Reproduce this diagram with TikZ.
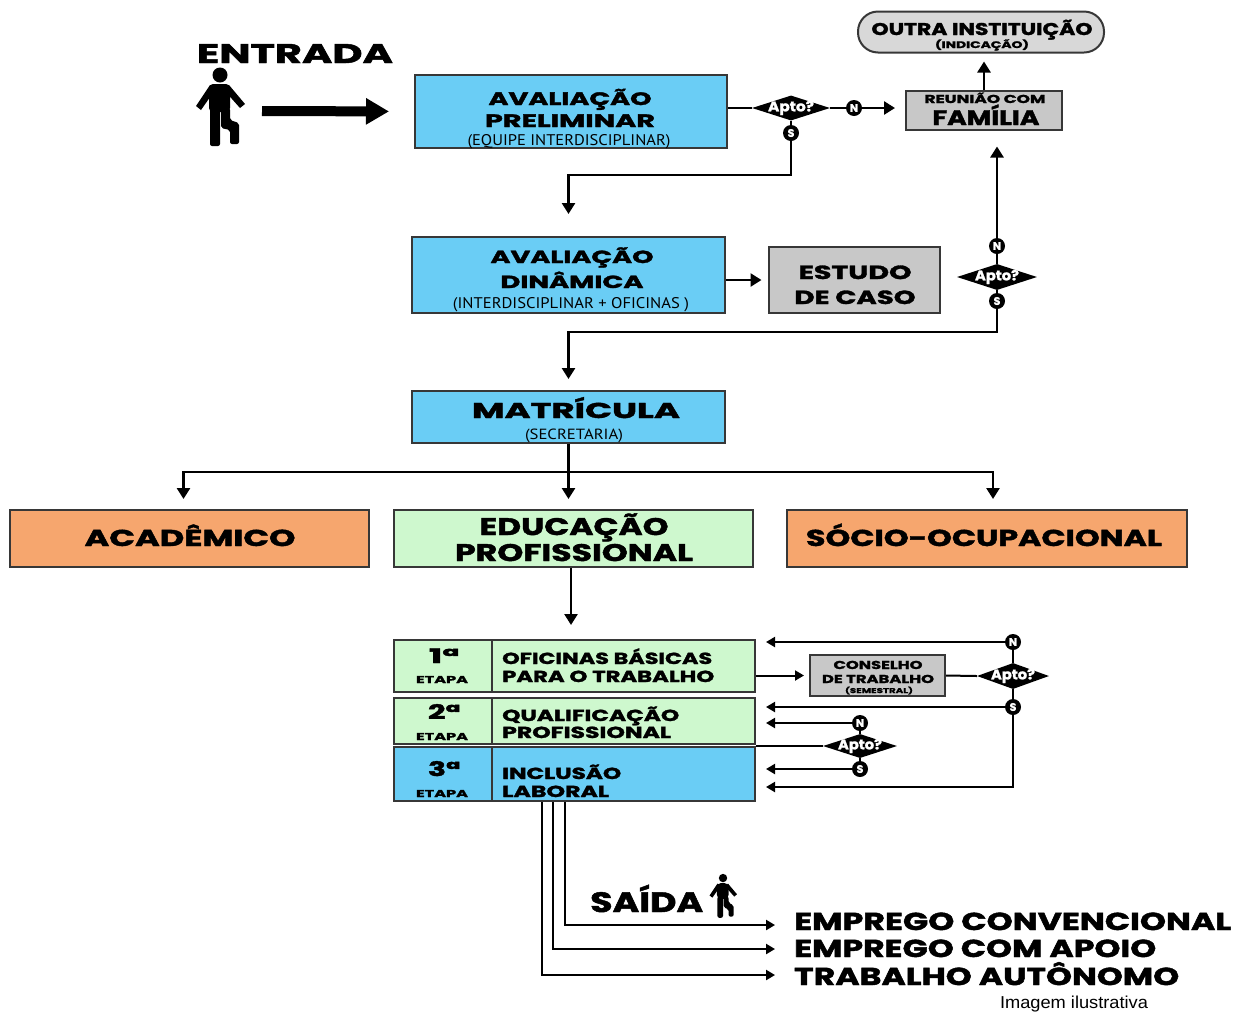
\documentclass[tikz,border=0pt]{standalone}
\usepackage{fontspec}
\usepackage{graphicx}
\usetikzlibrary{shapes.geometric,arrows.meta}
\newfontfamily\pop{Poppins}[BoldFeatures={FakeBold=1.6}]
\newfontfamily\cond{PT Sans}
\newfontfamily\ilus{Liberation Sans}
\definecolor{boxblue}{RGB}{106,205,245}
\definecolor{boxgreen}{RGB}{206,248,206}
\definecolor{boxorange}{RGB}{246,166,110}
\definecolor{boxgray}{RGB}{200,200,200}
\definecolor{pillgray}{RGB}{216,216,216}
\definecolor{edgec}{RGB}{55,55,55}
% bold title: #1 width, #2 font size, #3 text
\newcommand\bt[3]{\resizebox{#1pt}{\height}{\fontsize{#2}{#2}\pop\bfseries #3}}
% condensed subtitle: #1 width, #2 height, #3 text
\newcommand\ct[3]{\resizebox{#1pt}{#2pt}{\cond #3}}
\tikzset{
  box/.style={draw=edgec, line width=2pt, rectangle, inner sep=0pt},
  tx/.style={inner sep=0pt, anchor=base},
  txl/.style={inner sep=0pt, anchor=base west},
  dia/.style={diamond, fill=black, inner sep=0pt},
  apto/.style={inner sep=0pt, text=white},
  yn/.style={circle, fill=black, inner sep=0pt, minimum size=16pt, text=white, font=\pop\bfseries\fontsize{11}{11}\selectfont},
  link/.style={line width=2.6pt, draw=black},
  arr/.style={link, -{Triangle[length=11pt,width=13pt]}},
  slink/.style={line width=2pt, draw=black},
  sarr/.style={slink, -{Triangle[length=9pt,width=10pt]}},
  person/.pic={
    \fill (25,9) circle (7.5);
    \fill[rounded corners=4pt] (14,18) rectangle (35,46);
    \fill (15,19) -- (20,24) -- (6,44) -- (1,40) -- cycle;
    \fill (34,19) -- (29,24) -- (45,42) -- (50,38) -- cycle;
    \fill[rounded corners=2pt] (15,42) rectangle (25,80);
    \fill[rounded corners=2pt] (26,42) -- (35,42) -- (35,54) -- (44,57) -- (44,78) -- (35,78) -- (35,64) -- (26,62) -- cycle;
  }
}
\begin{document}
\begin{tikzpicture}[x=1pt,y=-1pt]
\useasboundingbox (0,0) rectangle (1246,1013);

% ---------- boxes ----------
\node[box, fill=boxblue, minimum width=312pt, minimum height=73pt] (prelim) at (571,111.5) {};
\node[box, fill=boxgray, minimum width=156pt, minimum height=39pt] (reuniao) at (984,110) {};
\node[box, fill=pillgray, rounded corners=20pt, minimum width=246pt, minimum height=41pt] (outra) at (981,32) {};
\node[box, fill=boxblue, minimum width=313pt, minimum height=76pt] (dyn) at (568.5,275) {};
\node[box, fill=boxgray, minimum width=171pt, minimum height=66pt] (estudo) at (854,280) {};
\node[box, fill=boxblue, minimum width=313pt, minimum height=52pt] (mat) at (568.5,417) {};
\node[box, fill=boxorange, minimum width=359pt, minimum height=57pt] (acad) at (189.5,538.5) {};
\node[box, fill=boxgreen, minimum width=359pt, minimum height=57pt] (edu) at (573.5,538.5) {};
\node[box, fill=boxorange, minimum width=400pt, minimum height=57pt] (soc) at (987,538.5) {};
\node[box, fill=boxgreen, minimum width=361pt, minimum height=52pt] (e1) at (574.5,666) {};
\node[box, fill=boxgreen, minimum width=361pt, minimum height=46pt] (e2) at (574.5,721) {};
\node[box, fill=boxblue, minimum width=361pt, minimum height=54pt] (e3) at (574.5,774) {};
\node[box, fill=boxgray, minimum width=135pt, minimum height=41pt] (cons) at (877.5,675.5) {};
\foreach \r in {e1,e2,e3}{\draw[draw=edgec, line width=2pt] (\r.north -| 492,0) -- (\r.south -| 492,0);}

% ---------- decisions ----------
\node[dia, minimum width=78pt, minimum height=25pt] (d1) at (791,108) {};
\node[yn] (n1) at (854,108) {N};
\node[yn] (s1) at (791,133) {S};
\node[dia, minimum width=80pt, minimum height=26pt] (d2) at (997,277) {};
\node[yn] (n2) at (997,246) {N};
\node[yn] (s2) at (997,301) {S};
\node[dia, minimum width=72pt, minimum height=26pt] (d3) at (1013,676) {};
\node[yn] (n3) at (1013,642) {N};
\node[yn] (s3) at (1013,707) {S};
\node[dia, minimum width=74pt, minimum height=24pt] (d4) at (860,746) {};
\node[yn] (n4) at (860,723) {N};
\node[yn] (s4) at (860,769) {S};
\node[apto] at (d1) {\bt{46}{14}{Apto?}};
\node[apto] at (d2) {\bt{44}{14}{Apto?}};
\node[apto] at (d3) {\bt{44}{14}{Apto?}};
\node[apto] at (d4) {\bt{44}{14}{Apto?}};

% ---------- people ----------
\pic at (195,66) {person};
\pic[scale=0.56] at (709,873) {person};
\coordinate (entA) at (262,111);

% ---------- texts ----------
\node[tx] (tEntrada) at (295,63) {\bt{196}{27}{ENTRADA}};
\node[tx] at (570,105) {\bt{163}{18}{AVALIAÇÃO}};
\node[tx] at (570,127) {\bt{170}{18}{PRELIMINAR}};
\node[tx] at (569,145) {\ct{203}{11}{(EQUIPE INTERDISCIPLINAR)}};
\node[tx] at (985,103) {\bt{121}{11.5}{REUNIÃO COM}};
\node[tx] at (986,125) {\bt{107}{21}{FAMÍLIA}};
\node[tx] at (982,35) {\bt{221}{17}{OUTRA INSTITUIÇÃO}};
\node[tx] at (982,48) {\bt{94}{9.5}{(INDICAÇÃO)}};
\node[tx] at (572,263) {\bt{163}{17.5}{AVALIAÇÃO}};
\node[tx] at (572,288) {\bt{143}{17.5}{DINÂMICA}};
\node[tx] at (571,308) {\ct{236}{11}{(INTERDISCIPLINAR + OFICINAS )}};
\node[tx] at (855,279) {\bt{113}{19}{ESTUDO}};
\node[tx] at (855,304) {\bt{121}{19}{DE CASO}};
\node[tx] at (576,418) {\bt{208}{21.5}{MATRÍCULA}};
\node[tx] at (574,439) {\ct{98}{10.5}{(SECRETARIA)}};
\node[tx] at (190,546) {\bt{211}{23}{ACADÊMICO}};
\node[tx] at (574,535) {\bt{189}{24}{EDUCAÇÃO}};
\node[tx] at (574,561) {\bt{238}{24}{PROFISSIONAL}};
\node[tx] at (984,546) {\bt{356}{23}{SÓCIO-OCUPACIONAL}};
\node[tx] at (444,663) {\bt{30}{20}{1ª}};
\node[tx] at (442,683) {\bt{52}{10}{ETAPA}};
\node[txl] at (502,664) {\bt{210}{16}{OFICINAS BÁSICAS}};
\node[txl] at (502,682) {\bt{212}{16}{PARA O TRABALHO}};
\node[tx] at (444,719) {\bt{32}{20}{2ª}};
\node[tx] at (442,740) {\bt{52}{10}{ETAPA}};
\node[txl] at (502,721) {\bt{177}{16}{QUALIFICAÇÃO}};
\node[txl] at (502,738) {\bt{169}{16}{PROFISSIONAL}};
\node[tx] at (444,776) {\bt{32}{20}{3ª}};
\node[tx] at (442,797) {\bt{52}{10}{ETAPA}};
\node[txl] at (502,779) {\bt{119}{16}{INCLUSÃO}};
\node[txl] at (502,797) {\bt{107}{16}{LABORAL}};
\node[tx] at (878,669) {\bt{89}{11.5}{CONSELHO}};
\node[tx] at (878,683) {\bt{112}{11.5}{DE TRABALHO}};
\node[tx] at (879,693) {\bt{68}{7}{(SEMESTRAL)}};
\node[txl] (tSaida) at (590,912) {\bt{113}{28}{SAÍDA}};
\node[txl] (o1) at (794,930) {\bt{437}{24.5}{EMPREGO CONVENCIONAL}};
\node[txl] (o2) at (794,957) {\bt{362}{24.5}{EMPREGO COM APOIO}};
\node[txl] (o3) at (794,985) {\bt{385}{24.5}{TRABALHO AUTÔNOMO}};
\node[tx] at (1074,1008) {\resizebox{148pt}{12.5pt}{\ilus Imagem ilustrativa}};

% ---------- connectors ----------
\draw[line width=10pt, -{Triangle[length=23pt,width=25pt]}, shorten >=25pt] (entA) -- (prelim.west);
\draw[link] (prelim.east |- d1.west) -- (d1.west);
\draw[link] (d1.east) -- (n1);
\draw[arr, shorten >=10pt] (n1) -- (reuniao.west |- n1);
\draw[link] (d1.south) -- (s1);
\draw[arr, shorten >=22pt] (s1) |- (dyn.north |- 0,175) -- (dyn.north);
\draw[arr, shorten >=8pt] (reuniao.north) -- (reuniao.north |- outra.south);
\draw[arr, shorten >=6pt] (estudo.west -| dyn.east) -- (estudo.west);
\draw[link] (d2.north) -- (n2);
\draw[arr, shorten >=16pt] (n2) -- (n2 |- reuniao.south);
\draw[link] (d2.south) -- (s2);
\draw[arr, shorten >=11pt] (s2) |- (mat.north |- 0,332) -- (mat.north);
\draw[arr, shorten >=10pt] (mat.south) |- ([xshift=-6pt]acad.north |- 0,472) -- ([xshift=-6pt]acad.north);
\draw[arr, shorten >=10pt] (mat.south) -- (edu.north -| mat.south);
\draw[arr, shorten >=10pt] (mat.south) |- ([xshift=6pt]soc.north |- 0,472) -- ([xshift=6pt]soc.north);
\draw[arr, shorten >=14pt] (edu.south -| 571,0) -- (e1.north -| 571,0);
% etapas
\draw[sarr, shorten >=5pt] (cons.west -| e1.east) -- (cons.west);
\draw[slink] (cons.east) -- (d3.west);
\draw[slink] (d3.north) -- (n3);
\draw[sarr, shorten >=10pt] (n3) -- (n3 -| e1.east);
\draw[slink] (d3.south) -- (s3);
\draw[sarr, shorten >=10pt] (s3) -- (s3 -| e2.east);
\draw[sarr, shorten >=10pt] (s3) |- (e3.east |- 0,787);
\draw[slink] (d4.west -| e2.east) -- (d4.west);
\draw[slink] (d4.north) -- (n4);
\draw[sarr, shorten >=10pt] (n4) -- (n4 -| e2.east);
\draw[slink] (d4.south) -- (s4);
\draw[sarr, shorten >=10pt] (s4) -- (s4 -| e3.east);
% outputs
\draw[sarr, line width=2.2pt, shorten >=19pt] (e3.south -| 565,0) |- ([yshift=5pt]o1.base west);
\draw[sarr, line width=2.2pt, shorten >=19pt] (e3.south -| 553,0) |- ([yshift=8pt]o2.base west);
\draw[sarr, line width=2.2pt, shorten >=19pt] (e3.south -| 542,0) |- ([yshift=10pt]o3.base west);
\end{tikzpicture}
\end{document}
